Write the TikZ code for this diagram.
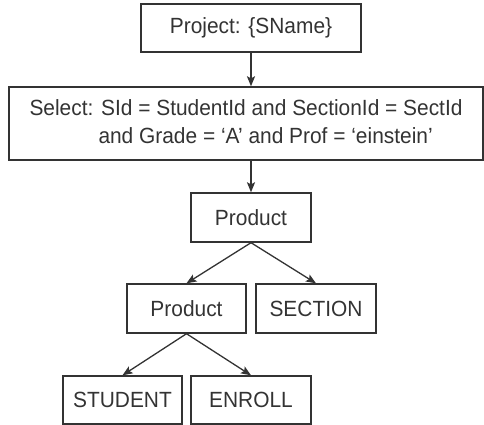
\documentclass[tikz,border=0pt]{standalone}
\usepackage{fontspec}
\setmainfont{Liberation Sans}[FakeStretch=0.95]
\usetikzlibrary{arrows.meta}
\definecolor{ink}{HTML}{333333}
\begin{document}
\begin{tikzpicture}[x=1pt,y=-1pt,
  opbox/.style={draw=ink,line width=1.4pt,text=ink,inner sep=0pt,font=\fontsize{22}{28}\selectfont},
  conn/.style={draw=ink,line width=1.3pt,-{Stealth[length=10pt,width=8pt,inset=2pt]}}]
\useasboundingbox (0,0) rectangle (484,425);
\node[opbox,minimum width=220pt,minimum height=48pt] (proj) at (251,28) {Project: \{SName\}};
\node[opbox,minimum width=474pt,minimum height=73pt] (sel) at (246,123.5)
  {\begin{tabular}{@{}l@{}}Select: SId = StudentId and SectionId = SectId\\[0pt]\hspace*{69pt}and Grade = ‘A’ and Prof = ‘einstein’\end{tabular}};
\node[opbox,minimum width=120pt,minimum height=49pt] (prod1) at (251,217.5) {Product};
\node[opbox,minimum width=119pt,minimum height=49pt] (prod2) at (186.5,308.5) {Product};
\node[opbox,minimum width=120pt,minimum height=49pt] (sect) at (316,308.5) {SECTION};
\node[opbox,minimum width=119pt,minimum height=48pt] (stud) at (122.5,400) {STUDENT};
\node[opbox,minimum width=120pt,minimum height=48pt] (enr) at (251,400) {ENROLL};
\draw[conn] (proj.south) -- (proj.south |- sel.north);
\draw[conn] (sel.south -| prod1.north) -- (prod1.north);
\draw[conn] (prod1.south) -- (prod2.north);
\draw[conn] (prod1.south) -- (sect.north);
\draw[conn] (prod2.south) -- (stud.north);
\draw[conn] (prod2.south) -- (enr.north);
\end{tikzpicture}
\end{document}
